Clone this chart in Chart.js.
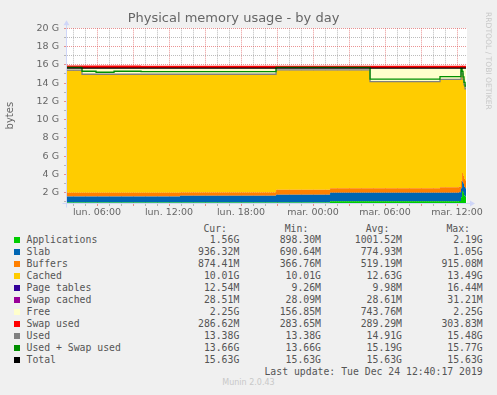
<!DOCTYPE html>
<html><head><meta charset="utf-8">
<script src="https://cdn.jsdelivr.net/npm/chart.js@4/dist/chart.umd.min.js"></script>
<style>
html,body{margin:0;padding:0;background:#F0F0F0;}
#wrap{position:relative;width:497px;height:395px;overflow:hidden;background:#F0F0F0;font-family:'DejaVu Sans',sans-serif;}
#cbox{position:absolute;left:0;top:0;width:497px;height:222px;}
.t{position:absolute;white-space:pre;font-family:'DejaVu Sans Mono',monospace;font-size:9.8px;line-height:12px;height:12px;color:#555;}
.sq{position:absolute;width:6px;height:6px;}
#wm{position:absolute;left:484px;top:12px;writing-mode:vertical-rl;font-size:7.6px;color:#c8c8c8;white-space:nowrap;}
#munin{position:absolute;left:0;width:497px;top:378px;text-align:center;font-size:8px;color:#c8c8c8;}
</style></head>
<body>
<div id="wrap">
  <div id="cbox"><canvas id="c" width="497" height="222"></canvas></div>
  <div id="wm">RRDTOOL / TOBI OETIKER</div>
  <div id="legend"></div>
  <div id="munin">Munin 2.0.43</div>
</div>
<script>
// ---- data (G, hours in the chart's label frame) ----
const times      = [3.5, 4.75, 5.92, 7.42, 9.67, 12.92, 20.92, 25.42, 28.75, 30.67, 32.75, 34.58, 36.17, 36.33, 36.42, 36.5, 36.58, 36.67, 36.75];
const apps       = [0.92,0.92,0.92,0.92,0.92,0.92,0.92,1.08,1.08,1.08,1.08,1.08,1.10,1.50,2.19,2.00,1.70,1.56,1.56];
const slab       = [0.675,0.675,0.675,0.675,0.675,0.757,0.866,0.925,0.925,0.925,0.925,0.925,0.95,1.00,1.05,1.00,0.95,0.936,0.936];
const buffers    = [0.405,0.405,0.405,0.405,0.405,0.36,0.544,0.49,0.49,0.49,0.49,0.60,0.62,0.80,0.915,0.90,0.88,0.874,0.874];
const cached     = [13.39,12.93,12.93,12.93,12.93,12.89,13.07,12.9,11.63,11.63,11.63,11.78,11.71,12.01,10.81,10.46,10.23,9.97,9.97];
const pageTables = [0.012,0.012,0.012,0.012,0.012,0.012,0.012,0.012,0.012,0.012,0.012,0.012,0.012,0.012,0.012,0.012,0.012,0.012,0.012];
const swapCached = [0.028,0.028,0.028,0.028,0.028,0.028,0.028,0.028,0.028,0.028,0.028,0.028,0.028,0.028,0.028,0.028,0.028,0.028,0.028];
const free       = [0.20,0.66,0.66,0.66,0.66,0.66,0.19,0.19,1.47,1.47,1.47,1.21,1.21,0.28,0.63,1.23,1.83,2.25,2.25];
const swapUsed   = [0.296,0.296,0.296,0.296,0.278,0.278,0.278,0.278,0.278,0.278,0.278,0.278,0.278,0.278,0.28,0.28,0.28,0.28,0.28];
const used       = [15.43,14.97,14.97,14.97,14.97,14.97,15.44,15.44,14.16,14.16,14.16,14.42,14.42,15.35,15.00,14.40,13.80,13.38,13.38];
const usedSwap   = [15.72,15.30,15.19,15.30,15.25,15.25,15.72,15.72,14.44,14.44,14.44,14.70,14.70,15.63,15.28,14.68,14.08,13.66,13.66];
const total      = [15.63,15.63,15.63,15.63,15.63,15.63,15.63,15.63,15.63,15.63,15.63,15.63,15.63,15.63,15.63,15.63,15.63,15.63,15.63];

const xTickHours  = [6, 12, 18, 24, 30, 36];
const xTickLabels = ['lun. 06:00','lun. 12:00','lun. 18:00','mar. 00:00','mar. 06:00','mar. 12:00'];
const yTickValues = [2,4,6,8,10,12,14,16,18,20];
const yTickLabels = ['2 G','4 G','6 G','8 G','10 G','12 G','14 G','16 G','18 G','20 G'];

const seriesNames  = ['Applications','Slab','Buffers','Cached','Page tables','Swap cached','Free','Swap used','Used','Used + Swap used','Total'];
const seriesColors = ['#00CC00','#0066B3','#FF8000','#FFCC00','#330099','#990099','#FFFFCC','#FF0000','#808080','#008F00','#000000'];
const curVals = ['1.56G','936.32M','874.41M','10.01G','12.54M','28.51M','2.25G','286.62M','13.38G','13.66G','15.63G'];
const minVals = ['898.30M','690.64M','366.76M','10.01G','9.26M','28.09M','156.85M','283.65M','13.38G','13.66G','15.63G'];
const avgVals = ['1001.52M','774.93M','519.19M','12.63G','9.98M','28.61M','743.76M','289.29M','14.91G','15.19G','15.63G'];
const maxVals = ['2.19G','1.05G','915.08M','13.49G','16.44M','31.21M','2.25G','303.83M','15.48G','15.77G','15.63G'];
const headers = ['Cur:','Min:','Avg:','Max:'];
const lastUpdate = 'Last update: Tue Dec 24 12:40:17 2019';

// ---- chart ----
const pts = arr => times.map((t,i)=>({x:t,y:arr[i]}));
const areaSeries = [apps, slab, buffers, cached, pageTables, swapCached, free, swapUsed];
const datasets = areaSeries.map((arr,i)=>({
  label: seriesNames[i], data: pts(arr), stack:'mem', order:10,
  backgroundColor: seriesColors[i], borderWidth:0, borderColor: seriesColors[i],
  fill: i===0 ? 'origin' : '-1', stepped:'before', pointRadius:0
}));
[[used,8,3],[usedSwap,9,2],[total,10,1]].forEach(([arr,ci,ord])=>{
  datasets.push({label: seriesNames[ci], data: pts(arr), stack:'l'+ci, order:ord,
    borderColor: seriesColors[ci], borderWidth:1.3, fill:false, stepped:'before', pointRadius:0});
});

const MAJ = 'rgba(222,79,79,0.6)', MIN = 'rgba(143,143,143,0.6)';
const bgPlugin = {id:'bg', beforeDraw(c){const a=c.chartArea,x=c.ctx;x.save();x.fillStyle='#F0F0F0';x.fillRect(0,0,c.width,c.height);x.fillStyle='#FFFFFF';x.fillRect(a.left,a.top,a.right-a.left,a.bottom-a.top);x.restore();}};
const axisPlugin = {id:'axes', afterDraw(c){
  const a=c.chartArea, x=c.ctx, L=Math.round(a.left)-0.5, B=Math.round(a.bottom)+0.5;
  x.save(); x.strokeStyle='#CFD6F8'; x.fillStyle='#CFD6F8'; x.lineWidth=1;
  x.beginPath(); x.moveTo(L-4,B); x.lineTo(a.right+4,B); x.moveTo(L,B+4); x.lineTo(L,a.top-4); x.stroke();
  x.beginPath(); x.moveTo(a.right+3,B-3); x.lineTo(a.right+8,B); x.lineTo(a.right+3,B+3); x.closePath(); x.fill();
  x.beginPath(); x.moveTo(L-3,a.top-3); x.lineTo(L,a.top-8); x.lineTo(L+3,a.top-3); x.closePath(); x.fill();
  x.restore();
}};

new Chart(document.getElementById('c'), {
  type:'line',
  data:{datasets},
  plugins:[bgPlugin, axisPlugin],
  options:{
    responsive:false, animation:false, devicePixelRatio:1,
    layout:{padding:{left:0,right:30,top:0,bottom:0}},
    plugins:{
      legend:{display:false}, tooltip:{enabled:false},
      title:{display:true, text:'Physical memory usage - by day', color:'#666',
        font:{family:'DejaVu Sans', size:13, weight:'normal'}, padding:{top:11,bottom:1.7}}
    },
    scales:{
      x:{type:'linear', min:3.5, max:36.83, z:1,
        afterBuildTicks(s){ const t=[]; for(let h=4;h<=36;h++) t.push({value:h}); s.ticks=t; },
        afterFit(s){ s.height=19; },
        ticks:{autoSkip:false, maxRotation:0, padding:1, color:'#666', font:{family:'DejaVu Sans',size:9.5},
          callback(v){ const k=xTickHours.indexOf(v); return k>=0 ? xTickLabels[k] : ''; }},
        grid:{color:c=>c.tick && c.tick.value%3===0 ? MAJ : MIN, tickLength:3, lineWidth:1, tickBorderDash:[]},
        border:{display:false, dash:[1,1]}
      },
      y:{type:'linear', stacked:true, min:0.877, max:20, z:1,
        afterBuildTicks(s){ const t=[]; for(let v=1;v<=20;v++) t.push({value:v}); s.ticks=t; },
        afterFit(s){ s.width=67; },
        title:{display:true, text:'bytes', color:'#666', font:{family:'DejaVu Sans',size:10}, padding:{top:4.5,bottom:0}},
        ticks:{autoSkip:false, padding:5, color:'#666', font:{family:'DejaVu Sans',size:9.5},
          callback(v){ const k=yTickValues.indexOf(v); return k>=0 ? yTickLabels[k] : ''; }},
        grid:{color:c=>c.tick && c.tick.value%2===0 ? MAJ : MIN, tickLength:3, lineWidth:1, tickBorderDash:[]},
        border:{display:false, dash:[1,1]}
      }
    }
  }
});

// ---- legend (HTML text) ----
const lg = document.getElementById('legend');
function addText(txt, top, opts){
  const d=document.createElement('div'); d.className='t'; d.textContent=txt; d.style.top=top+'px';
  if(opts.left!==undefined) d.style.left=opts.left+'px';
  if(opts.right!==undefined){ d.style.right=(497-opts.right)+'px'; d.style.textAlign='right'; }
  lg.appendChild(d);
}
const colRight = [239.3, 321, 402, 482.7];
const headRight = [227, 308.3, 389.3, 470];
headers.forEach((h,i)=>addText(h, 229-6, {right:headRight[i]}));
seriesNames.forEach((n,i)=>{
  const cy = 239.7 + 12*i;
  const s=document.createElement('div'); s.className='sq'; s.style.left='14px'; s.style.top=(cy-3)+'px'; s.style.background=seriesColors[i]; lg.appendChild(s);
  addText(n, cy-6, {left:26.5});
  [curVals,minVals,avgVals,maxVals].forEach((arr,j)=>addText(arr[i], cy-6, {right:colRight[j]}));
});
addText(lastUpdate, 371.7-6, {right:482.7});
document.getElementById('wrap').appendChild(lg);
</script>
</body></html>
